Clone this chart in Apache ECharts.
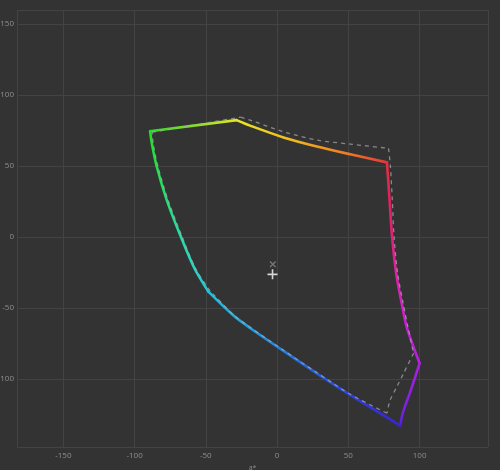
<!DOCTYPE html>
<html>
<head>
<meta charset="utf-8">
<script src="https://cdn.jsdelivr.net/npm/echarts@6/dist/echarts.min.js"></script>
<style>
html,body{margin:0;padding:0;background:#333333;}
#chart{width:500px;height:470px;}
</style>
</head>
<body>
<div id="chart"></div>
<script>
// Colored gamut boundary (a*, b*), closed loop
const gamutA = [-89.1, -28.5, -18.9, 4.5, 27.9, 51.3, 77.1, 79.0, 80.6, 83.5, 87.5, 91.2, 100.0, 93.5, 89.3, 87.6, 86.4, 77.1, 51.3, 27.9, 4.5, -18.9, -30.6, -48.2, -58.0, -68.0, -77.4, -84.4, -87.9, -89.1];
const gamutB = [74.6, 82.4, 78.5, 70.2, 63.8, 58.3, 52.6, 25.0, 1.4, -25.0, -47.0, -64.3, -89.0, -109.0, -120.6, -126.5, -132.9, -127.1, -111.3, -96.1, -80.3, -64.1, -55.3, -38.5, -22.0, 1.4, 26.0, 49.5, 66.0, 74.6];
// indices of the corners of the colored boundary
const gamutCorners = [0, 1, 6, 12, 16, 23, 29];
// Reference gamut (dashed), closed loop
const refA = [-87.7, -25.5, -18.9, 4.5, 27.9, 51.3, 78.2, 79.5, 80.9, 82.0, 84.5, 88.5, 92.0, 95.8, 88.8, 84.1, 79.4, 77.1, 51.3, 27.9, 4.5, -18.9, -30.6, -47.0, -57.3, -67.0, -76.3, -83.3, -86.8, -87.7];
const refB = [73.9, 84.5, 82.4, 74.2, 68.3, 65.5, 62.5, 50.0, 25.0, 1.4, -25.0, -47.0, -64.3, -81.9, -96.0, -105.4, -114.8, -124.2, -110.8, -95.6, -79.8, -63.6, -54.8, -38.0, -22.0, 1.0, 25.5, 48.5, 65.0, 73.9];
const refCorners = [0, 1, 6, 13, 17, 23, 29];
// Markers
const whiteXA = [-3.0], whiteXB = [-19.2];
const whitePlusA = [-3.2], whitePlusB = [-26.3];
const xTicks = [-150, -100, -50, 0, 50, 100];
const yTicks = [-100, -50, 0, 50, 100, 150];

// hue anchors for coloring by Lab hue angle
const hueStops = [
  [0, '#e0207a'], [17, '#e02060'], [34, '#e53040'], [50, '#f07a20'], [75, '#f0b020'],
  [95, '#f0d020'], [110, '#e8e820'], [125, '#90e020'], [140, '#20e020'], [160, '#20e070'],
  [180, '#20e0a8'], [200, '#20d8c8'], [220, '#20c0e0'], [255, '#20a0e0'], [280, '#2070e0'],
  [300, '#3030d8'], [303, '#4020d8'], [305, '#7020e0'], [310, '#9020e0'], [318, '#b020e0'],
  [330, '#d020c8'], [345, '#e020a0'], [360, '#e0207a']
];
function hex2rgb(h){return [parseInt(h.substr(1,2),16),parseInt(h.substr(3,2),16),parseInt(h.substr(5,2),16)];}
function hueColor(a,b){
  let h = Math.atan2(b,a)*180/Math.PI; if(h<0) h+=360;
  for(let i=0;i<hueStops.length-1;i++){
    const s0=hueStops[i], s1=hueStops[i+1];
    if(h>=s0[0] && h<=s1[0]){
      const t=(h-s0[0])/(s1[0]-s0[0]);
      const c0=hex2rgb(s0[1]), c1=hex2rgb(s1[1]);
      const c=c0.map((v,k)=>Math.round(v+(c1[k]-v)*t));
      return 'rgb('+c.join(',')+')';
    }
  }
  return hueStops[0][1];
}

function edgeGradient(pts){
  const as=pts.map(p=>p[0]), bs=pts.map(p=>p[1]);
  const minA=Math.min(...as), maxA=Math.max(...as), minB=Math.min(...bs), maxB=Math.max(...bs);
  const fx=a=> maxA>minA ? (a-minA)/(maxA-minA) : 0.5;
  const fy=b=> maxB>minB ? (maxB-b)/(maxB-minB) : 0.5;
  const s=pts[0], e=pts[pts.length-1];
  const dx=e[0]-s[0], dy=e[1]-s[1], L2=dx*dx+dy*dy;
  const stops=pts.map(p=>{
    let t=((p[0]-s[0])*dx+(p[1]-s[1])*dy)/L2; t=Math.max(0,Math.min(1,t));
    return {offset:t,color:hueColor(p[0],p[1])};
  }).sort((u,v)=>u.offset-v.offset);
  return new echarts.graphic.LinearGradient(fx(s[0]),fy(s[1]),fx(e[0]),fy(e[1]),stops,false);
}

const series=[];
for(let k=0;k<gamutCorners.length-1;k++){
  const pts=[];
  for(let i=gamutCorners[k];i<=gamutCorners[k+1];i++) pts.push([gamutA[i],gamutB[i]]);
  series.push({
    type:'line', z:2, data:pts, showSymbol:false, symbol:'none',
    smooth:pts.length>2?0.3:false,
    lineStyle:{width:2.6,color:edgeGradient(pts),cap:'round',join:'round'},
    silent:true
  });
}
for(let k=0;k<refCorners.length-1;k++){
  const pts=[];
  for(let i=refCorners[k];i<=refCorners[k+1];i++) pts.push([refA[i],refB[i]]);
  series.push({
    type:'line', z:3, data:pts, showSymbol:false, symbol:'none',
    smooth:pts.length>2?0.3:false,
    lineStyle:{color:'rgba(165,165,165,0.75)',width:1.3,type:[4,4]},
    silent:true
  });
}
const crossPath = 'path://M4.2,0h1.6v10h-1.6z M0,4.2h10v1.6h-10z';
series.push({
  type:'scatter', z:4, data:whiteXA.map((a,i)=>[a,whiteXB[i]]),
  symbol:crossPath, symbolSize:8, symbolRotate:45,
  itemStyle:{color:'#8c8c8c'}, silent:true
});
series.push({
  type:'scatter', z:5, data:whitePlusA.map((a,i)=>[a,whitePlusB[i]]),
  symbol:crossPath, symbolSize:10,
  itemStyle:{color:'#ffffff'}, silent:true
});

const chart = echarts.init(document.getElementById('chart'));
const labelFmt = (ticks)=> (v)=> ticks.indexOf(Math.round(v*1000)/1000)>=0 ? String(v) : '';
chart.setOption({
  backgroundColor:'#333333',
  animation:false,
  grid:{left:17,right:12,top:10,bottom:23,containLabel:false,outerBoundsMode:'none'},
  xAxis:{
    type:'value', min:-182.5, max:148,
    name:'a*', nameLocation:'middle', nameGap:13,
    nameTextStyle:{color:'#8a8a8a',fontSize:7,fontFamily:'Open Sans'},
    axisLine:{show:false}, axisTick:{show:false},
    axisLabel:{color:'#8f8f8f',fontSize:8,margin:5,fontFamily:'Open Sans',formatter:labelFmt(xTicks)},
    splitLine:{show:true,lineStyle:{color:'#434343',width:1}}
  },
  yAxis:{
    type:'value', min:-148, max:160,
    axisLine:{show:false}, axisTick:{show:false},
    axisLabel:{color:'#8f8f8f',fontSize:8,margin:3,fontFamily:'Open Sans',formatter:labelFmt(yTicks)},
    splitLine:{show:true,lineStyle:{color:'#434343',width:1}}
  },
  series:series
});
</script>
</body>
</html>
